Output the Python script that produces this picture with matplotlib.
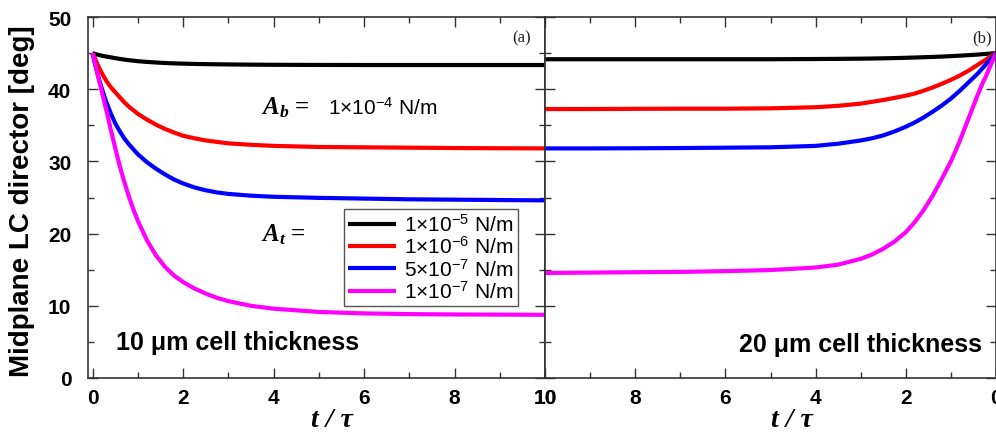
import matplotlib
matplotlib.use("Agg")
import matplotlib.pyplot as plt
from matplotlib.ticker import MultipleLocator

plt.rcParams['font.family'] = ['Liberation Sans', 'DejaVu Sans']
plt.rcParams['mathtext.fontset'] = 'custom'
plt.rcParams['mathtext.rm'] = 'Liberation Sans'
plt.rcParams['mathtext.it'] = 'Liberation Serif:italic'
plt.rcParams['mathtext.bf'] = 'Liberation Sans:bold'
try:
    plt.rcParams['mathtext.bfit'] = 'Liberation Serif:italic:bold'
    BFIT = True
except KeyError:
    BFIT = False
plt.rcParams['mathtext.default'] = 'regular'

# ---------------- data ----------------
t_left = [0, 0.05, 0.1, 0.15, 0.2, 0.3, 0.4, 0.5, 0.6, 0.7, 0.8, 0.9, 1.0, 1.2,
          1.4, 1.6, 1.8, 2.0, 2.25, 2.5, 2.75, 3.0, 3.5, 4, 5, 6, 7, 8, 9, 10]
left_1e5 = [45, 44.9, 44.8, 44.72, 44.65, 44.52, 44.42, 44.3, 44.2, 44.1, 44.02,
            43.95, 43.88, 43.78, 43.7, 43.63, 43.58, 43.54, 43.5, 43.47, 43.45,
            43.43, 43.4, 43.38, 43.36, 43.35, 43.35, 43.35, 43.35, 43.35]
left_1e6 = [45, 44.3, 43.6, 42.9, 42.3, 41.2, 40.3, 39.6, 38.9, 38.2, 37.6, 37.1,
            36.6, 35.8, 35.1, 34.5, 34.0, 33.55, 33.2, 32.9, 32.7, 32.5, 32.3,
            32.15, 32.0, 31.95, 31.9, 31.85, 31.82, 31.8]
left_5e7 = [45, 43.6, 42.4, 41.2, 40.2, 38.3, 36.7, 35.3, 34.2, 33.2, 32.4, 31.7,
            31.0, 29.9, 29.0, 28.2, 27.5, 26.95, 26.4, 26.0, 25.7, 25.5, 25.25,
            25.1, 24.95, 24.85, 24.75, 24.7, 24.65, 24.6]
left_1e7 = [45, 43.7, 42.4, 41.1, 39.8, 37.2, 34.5, 31.9, 29.4, 27.2, 25.2, 23.4,
            21.8, 19.1, 17.0, 15.4, 14.2, 13.3, 12.4, 11.7, 11.1, 10.65, 10.0,
            9.6, 9.15, 8.95, 8.85, 8.8, 8.78, 8.75]

t_right = [0, 0.05, 0.1, 0.15, 0.2, 0.3, 0.4, 0.5, 0.6, 0.7, 0.8, 0.9, 1.0, 1.2,
           1.4, 1.6, 1.8, 2.0, 2.25, 2.5, 2.75, 3.0, 3.5, 4, 5, 6, 7, 8, 9, 10]
right_1e5 = [45, 44.97, 44.95, 44.92, 44.9, 44.85, 44.8, 44.76, 44.72, 44.68,
             44.65, 44.61, 44.58, 44.52, 44.47, 44.43, 44.39, 44.35, 44.31, 44.28,
             44.25, 44.23, 44.2, 44.18, 44.15, 44.15, 44.15, 44.15, 44.15, 44.15]
right_1e6 = [45, 44.8, 44.6, 44.4, 44.2, 43.8, 43.4, 43.0, 42.6, 42.25, 41.9,
             41.6, 41.3, 40.75, 40.25, 39.8, 39.4, 39.1, 38.8, 38.5, 38.25, 38.0,
             37.7, 37.5, 37.35, 37.3, 37.3, 37.28, 37.25, 37.25]
right_5e7 = [45, 44.65, 44.3, 43.95, 43.6, 42.9, 42.2, 41.6, 41.0, 40.4, 39.8,
             39.25, 38.7, 37.75, 36.9, 36.1, 35.4, 34.8, 34.15, 33.6, 33.2, 32.9,
             32.45, 32.15, 31.95, 31.9, 31.85, 31.82, 31.8, 31.8]
right_1e7 = [45, 44.3, 43.6, 42.9, 42.1, 40.8, 39.3, 37.7, 36.1, 34.5, 32.9, 31.4,
             30.0, 27.6, 25.3, 23.3, 21.6, 20.2, 18.9, 17.9, 17.1, 16.5, 15.7,
             15.3, 14.95, 14.8, 14.7, 14.65, 14.6, 14.55]

labels = [r'1$\times$10$^{-5}$ N/m', r'1$\times$10$^{-6}$ N/m',
          r'5$\times$10$^{-7}$ N/m', r'1$\times$10$^{-7}$ N/m']
colors = ['#000000', '#ff0000', '#0000ff', '#ff00ff']
x_ticks = [0, 2, 4, 6, 8, 10]
y_ticks = [0, 10, 20, 30, 40, 50]

# ---------------- figure ----------------
W, H = 996, 435
fig = plt.figure(figsize=(W / 100, H / 100), dpi=100)

def fx(px):
    return px / W

def fy(py):
    return 1 - py / H

x0, x1, x2 = 88, 545, 996
ytop, ybot = 18, 379
ax1 = fig.add_axes([fx(x0), fy(ybot), (x1 - x0) / W, (ybot - ytop) / H])
ax2 = fig.add_axes([fx(x1), fy(ybot), (x2 - x1) / W, (ybot - ytop) / H])

lw = 3.0
lines = []
for ys, c, lab in zip([left_1e5, left_1e6, left_5e7, left_1e7], colors, labels):
    ln, = ax1.plot(t_left, ys, color=c, lw=lw, label=lab,
                   solid_capstyle='butt', solid_joinstyle='round')
    lines.append(ln)
for ys, c in zip([right_1e5, right_1e6, right_5e7, right_1e7], colors):
    ax2.plot(t_right, ys, color=c, lw=lw, solid_capstyle='butt',
             solid_joinstyle='round')

spine_col = '#333333'
for ax in (ax1, ax2):
    ax.set_ylim(0, 50)
    ax.set_xticks(x_ticks)
    ax.set_yticks(y_ticks)
    ax.xaxis.set_minor_locator(MultipleLocator(1))
    ax.yaxis.set_minor_locator(MultipleLocator(5))
    ax.tick_params(which='both', direction='in', top=True, right=True,
                   color=spine_col, width=1.0)
    ax.tick_params(which='major', length=7)
    ax.tick_params(which='minor', length=4)
    ax.tick_params(axis='x', which='major', labelsize=15, pad=7)
    for s in ax.spines.values():
        s.set_color(spine_col)
        s.set_linewidth(1.2)
    for lab in ax.get_xticklabels():
        lab.set_fontweight('bold')

ax1.set_xlim(-0.1, 10)
ax2.set_xlim(10, 0)
ax1.tick_params(axis='y', which='major', labelsize=15, pad=12)
for lab in ax1.get_yticklabels():
    lab.set_fontweight('bold')
ax2.tick_params(axis='y', labelleft=False)

# legend
leg = ax1.legend(handles=lines, loc='lower left',
                 bbox_to_anchor=(fx(344), fy(307)), bbox_transform=fig.transFigure,
                 borderaxespad=0, fontsize=15, frameon=True, fancybox=False,
                 framealpha=1, edgecolor='#555555', handlelength=2.3,
                 handletextpad=0.4, labelspacing=0.02, borderpad=0.2)
leg.get_frame().set_linewidth(1.0)

# axis labels
fig.text(fx(22), fy(201), 'Midplane LC director [deg]', rotation=90,
         ha='center', va='center', fontsize=20, fontweight='bold')
for xc in (332, 792):
    fig.text(fx(xc), fy(421), 't / τ', ha='center', va='center', fontsize=20,
             family='Liberation Serif', style='italic', fontweight='bold')

# annotations
if BFIT:
    ab = r'$\mathbfit{A}_{\mathbfit{b}}$ ='
    at = r'$\mathbfit{A}_{\mathbfit{t}}$ ='
else:
    ab = r'$\mathit{A}_{\mathit{b}}$ ='
    at = r'$\mathit{A}_{\mathit{t}}$ ='
fig.text(fx(261), fy(108), ab, ha='left', va='center', fontsize=18,
         family='Liberation Serif', fontweight='bold')
fig.text(fx(328), fy(108), r'1$\times$10$^{-4}$ N/m', ha='left', va='center',
         fontsize=15)
fig.text(fx(261), fy(235), at, ha='left', va='center', fontsize=18,
         family='Liberation Serif', fontweight='bold')

fig.text(fx(522), fy(38), '(a)', ha='center', va='center', fontsize=12,
         family='Liberation Serif', color='#222222')
fig.text(fx(982), fy(38), '(b)', ha='center', va='center', fontsize=12,
         family='Liberation Serif', color='#222222')

fig.text(fx(116), fy(343), '10 μm cell thickness', ha='left', va='center',
         fontsize=18, fontweight='bold')
fig.text(fx(982), fy(345), '20 μm cell thickness', ha='right', va='center',
         fontsize=18, fontweight='bold')

fig.savefig('out.png', dpi=100)
